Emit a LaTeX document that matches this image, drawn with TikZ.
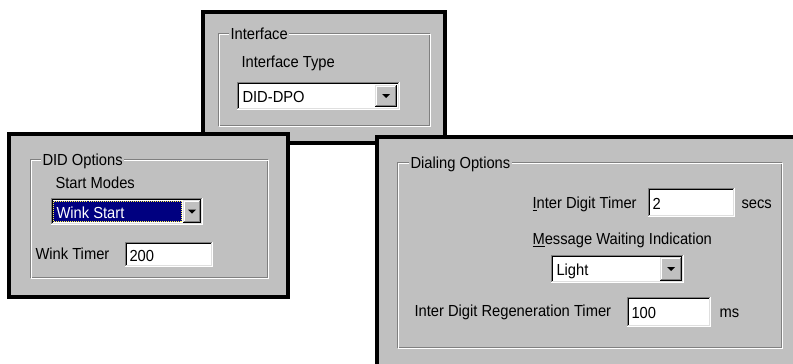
\documentclass[tikz,border=0pt]{standalone}
\usepackage{fontspec}
\setmainfont{Liberation Sans}[FakeStretch=0.92]

\definecolor{btnface}{HTML}{C0C0C0}
\definecolor{btnshadow}{HTML}{808080}
\definecolor{btnlight}{HTML}{DFDFDF}
\definecolor{selblue}{HTML}{000080}

\tikzset{
	window/.style={draw=black,line width=4pt,fill=btnface},
	lbl/.style={anchor=base west,inner sep=0pt,font=\fontsize{16}{19}\selectfont},
	grptitle/.style={lbl,fill=btnface,inner xsep=1.5pt,inner ysep=1pt},
}

% etched frame of a group box: x1,y1,x2,y2
\newcommand\etchbox[4]{%
	\draw[btnshadow] (#1+.5,#2+.5) rectangle (#3-.5,#4-.5);
	\draw[white] (#1+1.5,#2+1.5) rectangle (#3+.5,#4+.5);
}
% white sunken field (edit box, combo box)
\newcommand\sunkbox[4]{%
	\fill[white] (#1,#2) rectangle (#3,#4);
	\draw[btnshadow] (#1+.5,#4) -- (#1+.5,#2+.5) -- (#3,#2+.5);
	\draw[black] (#1+1.5,#4-1) -- (#1+1.5,#2+1.5) -- (#3-1,#2+1.5);
	\draw[white] (#1,#4-.5) -- (#3-.5,#4-.5) -- (#3-.5,#2);
	\draw[btnlight] (#1+1,#4-1.5) -- (#3-1.5,#4-1.5) -- (#3-1.5,#2+1);
}
% raised drop-down button with its arrow
\newcommand\dropbtn[4]{%
	\fill[btnface] (#1,#2) rectangle (#3,#4);
	\draw[btnlight] (#1+.5,#4-1) -- (#1+.5,#2+.5) -- (#3-1,#2+.5);
	\draw[white] (#1+1.5,#4-2) -- (#1+1.5,#2+1.5) -- (#3-2,#2+1.5);
	\draw[black] (#1,#4-.5) -- (#3-.5,#4-.5) -- (#3-.5,#2);
	\draw[btnshadow] (#1+1,#4-1.5) -- (#3-1.5,#4-1.5) -- (#3-1.5,#2+1);
	\fill[black] ({(#1+#3)/2-4},{(#2+#4)/2-2}) -- ({(#1+#3)/2+4},{(#2+#4)/2-2})
		-- ({(#1+#3)/2},{(#2+#4)/2+2}) -- cycle;
}

\begin{document}
\begin{tikzpicture}[x=1pt,y=-1pt,line width=1pt]
	\useasboundingbox (0,0) rectangle (793,364);
	\clip (0,0) rectangle (793,364);

	% interface dialog
	\draw[window] (203,12) rectangle (445,143);
	\etchbox{218}{33}{430}{126}
	\node[grptitle] (ifctitle) at (228.5,39.5) {Interface};
	\node[lbl] (ifctype) at (241,67) {Interface Type};
	\sunkbox{237}{82}{400}{110}
	\node[lbl] (ifcval) at (242,102.5) {DID-DPO};
	\dropbtn{375}{85}{397}{107}

	% DID options dialog
	\draw[window] (9,134) rectangle (288,297);
	\etchbox{30}{159}{268}{278}
	\node[grptitle] (didtitle) at (40.5,165) {DID Options};
	\node[lbl] (modeslbl) at (55,188.5) {Start Modes};
	\sunkbox{51}{198}{203}{225}
	\fill[selblue] (53,201) rectangle (182,222);
	\draw[yellow!70!white,densely dotted] (53.5,201.5) rectangle (181.5,221.5);
	\node[lbl,text=white] (modeval) at (56,218) {Wink Start};
	\dropbtn{183}{200}{201}{223}
	\node[lbl] (winklbl) at (35,259.5) {Wink Timer};
	\sunkbox{125}{242}{213}{267}
	\node[lbl] (winkval) at (129,261) {200};

	% dialing options dialog
	\draw[window] (377,137) rectangle (810,380);
	\etchbox{397}{162}{782}{348}
	\node[grptitle] (dialtitle) at (408.5,168.5) {Dialing Options};
	\node[lbl] (idtlbl) at (532,208.5) {\underline{I}nter Digit Timer};
	\sunkbox{648}{188}{735}{217}
	\node[lbl] (idtval) at (652,209) {2};
	\node[lbl] (idtunit) at (741,208) {secs};
	\node[lbl] (mwilbl) at (532,244.5) {\underline{M}essage Waiting Indication};
	\sunkbox{551}{255}{684}{283}
	\node[lbl] (mwival) at (556,275.5) {Light};
	\dropbtn{660}{257}{682}{281}
	\node[lbl] (idrlbl) at (414,316.5) {Inter Digit Regeneration Timer};
	\sunkbox{627}{297}{711}{327}
	\node[lbl] (idrval) at (631,318.5) {100};
	\node[lbl] (idrunit) at (719,317) {ms};
\end{tikzpicture}
\end{document}
